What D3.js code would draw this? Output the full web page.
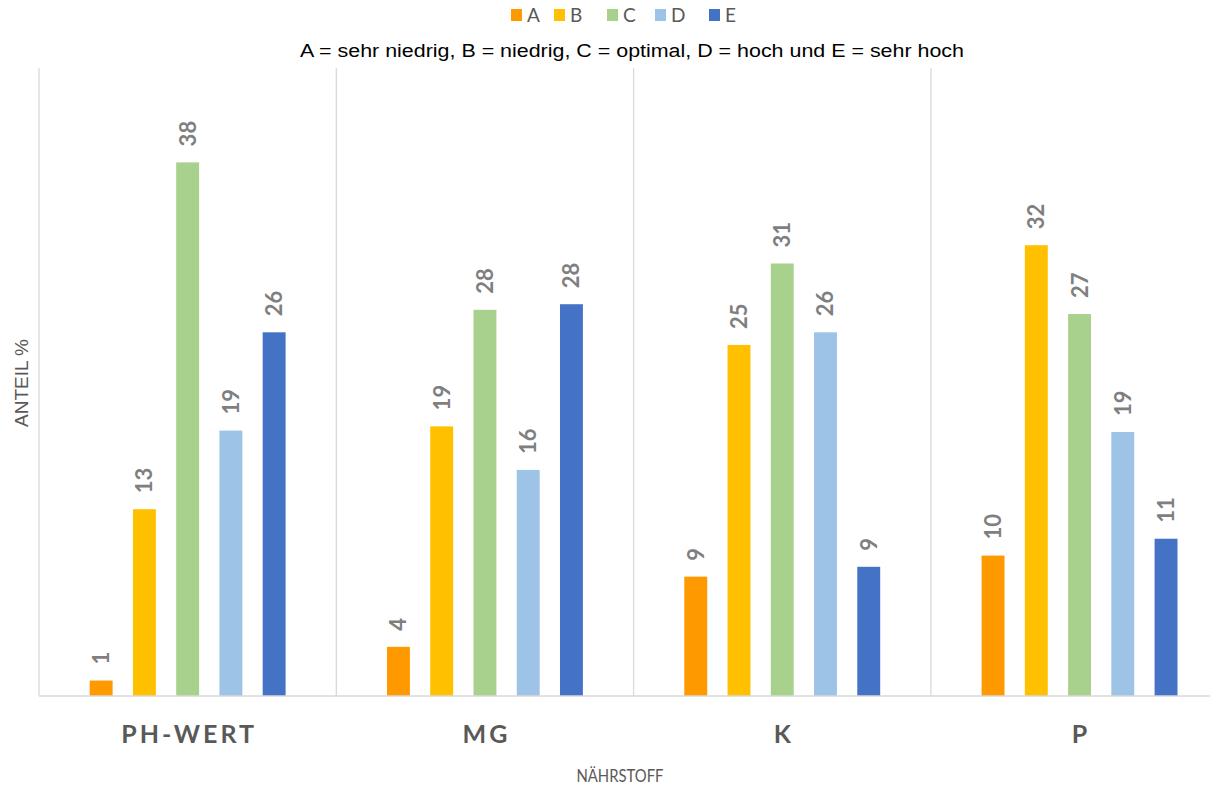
<!DOCTYPE html>
<html>
<head>
<meta charset="utf-8">
<script src="https://cdn.jsdelivr.net/npm/d3@7"></script>
<style>
  html, body { margin: 0; padding: 0; background: #fff; }
  svg { display: block; }
</style>
</head>
<body>
<svg id="chart" width="1210" height="786"></svg>
<script>
// ---- data ----
const categories = ["PH-WERT", "MG", "K", "P"];
const seriesNames = ["A", "B", "C", "D", "E"];
const seriesColors = ["#FF9900", "#FFC000", "#A9D18E", "#9DC3E6", "#4472C4"];
const valuesA = [1.1, 3.5, 8.5, 10.0];
const valuesB = [13.3, 19.2, 25.0, 32.1];
const valuesC = [38.0, 27.5, 30.8, 27.2];
const valuesD = [18.9, 16.1, 25.9, 18.8];
const valuesE = [25.9, 27.9, 9.2, 11.2];
const seriesValues = [valuesA, valuesB, valuesC, valuesD, valuesE];
const subtitle = "A = sehr niedrig, B = niedrig, C = optimal, D = hoch und E = sehr hoch";
const yTitle = "ANTEIL %";
const xTitle = "NÄHRSTOFF";

const svg = d3.select("#chart");
const plot = { left: 39, right: 1228.2, top: 68.3, bottom: 696 };

const x0 = d3.scaleBand().domain(categories).range([plot.left, plot.right]).padding(0);
const catW = x0.bandwidth();
const x1 = d3.scaleBand().domain(seriesNames).range([50.7, catW - 50.7]).paddingInner(0.47).paddingOuter(0);
const y = d3.scaleLinear().domain([0, 44.7]).range([plot.bottom, plot.top]);

// vertical gridlines at category boundaries
const bounds = categories.map(c => x0(c)).concat([plot.right]);
svg.append("g").selectAll("line").data(bounds).join("line")
  .attr("x1", d => d).attr("x2", d => d)
  .attr("y1", plot.top).attr("y2", plot.bottom)
  .attr("stroke", "#d9d9d9").attr("stroke-width", 1.3);

// bars
const data = [];
categories.forEach((c, ci) => {
  seriesNames.forEach((s, si) => {
    data.push({ cat: c, s: s, si: si, v: seriesValues[si][ci] });
  });
});

const g = svg.append("g");
g.selectAll("rect").data(data).join("rect")
  .attr("x", d => x0(d.cat) + x1(d.s))
  .attr("y", d => y(d.v))
  .attr("width", x1.bandwidth())
  .attr("height", d => y(0) - y(d.v))
  .attr("fill", d => seriesColors[d.si]);

// value labels
g.selectAll("text.val").data(data).join("text")
  .attr("class", "val")
  .attr("transform", d => {
    const cx = x0(d.cat) + x1(d.s) + x1.bandwidth() / 2;
    return `translate(${cx + 8},${y(d.v) - 16}) rotate(-90)`;
  })
  .attr("text-anchor", "start")
  .attr("font-family", "Lato, 'Open Sans', sans-serif")
  .attr("font-weight", "bold")
  .attr("font-size", 22)
  .attr("fill", "#7f7f7f")
  .text(d => Math.round(d.v));

// x axis line
svg.append("line")
  .attr("x1", plot.left).attr("x2", plot.right)
  .attr("y1", plot.bottom).attr("y2", plot.bottom)
  .attr("stroke", "#d9d9d9").attr("stroke-width", 1.6);

// category labels
svg.append("g").selectAll("text").data(categories).join("text")
  .attr("x", d => x0(d) + catW / 2 + 1.5)
  .attr("y", 743)
  .attr("text-anchor", "middle")
  .attr("font-family", "Lato, 'Open Sans', sans-serif")
  .attr("font-weight", "bold")
  .attr("font-size", 25)
  .attr("letter-spacing", 3)
  .attr("fill", "#595959")
  .text(d => d);

// axis titles
svg.append("text")
  .attr("transform", "translate(28,383) rotate(-90)")
  .attr("text-anchor", "middle")
  .attr("font-family", "'Liberation Sans', Arial, sans-serif")
  .attr("font-size", 19)
  .attr("fill", "#595959")
  .text(yTitle);

svg.append("text")
  .attr("x", 620).attr("y", 782)
  .attr("text-anchor", "middle")
  .attr("font-family", "Lato, 'Open Sans', sans-serif")
  .attr("font-size", 17)
  .attr("textLength", 87)
  .attr("lengthAdjust", "spacingAndGlyphs")
  .attr("fill", "#595959")
  .text(xTitle);

// subtitle
svg.append("text")
  .attr("x", 632).attr("y", 57)
  .attr("text-anchor", "middle")
  .attr("font-family", "'Liberation Sans', Arial, sans-serif")
  .attr("font-size", 18)
  .attr("textLength", 664)
  .attr("lengthAdjust", "spacingAndGlyphs")
  .attr("fill", "#000")
  .text(subtitle);

// legend
const legendX = [511, 554, 607, 655, 709];
const lg = svg.append("g").selectAll("g").data(seriesNames).join("g")
  .attr("transform", (d, i) => `translate(${legendX[i]},9)`);
lg.append("rect").attr("width", 11).attr("height", 12)
  .attr("fill", (d, i) => seriesColors[i]);
lg.append("text").attr("x", 16).attr("y", 13)
  .attr("font-family", "Lato, 'Open Sans', sans-serif")
  .attr("font-size", 19)
  .attr("fill", "#595959")
  .text(d => d);
</script>
</body>
</html>
